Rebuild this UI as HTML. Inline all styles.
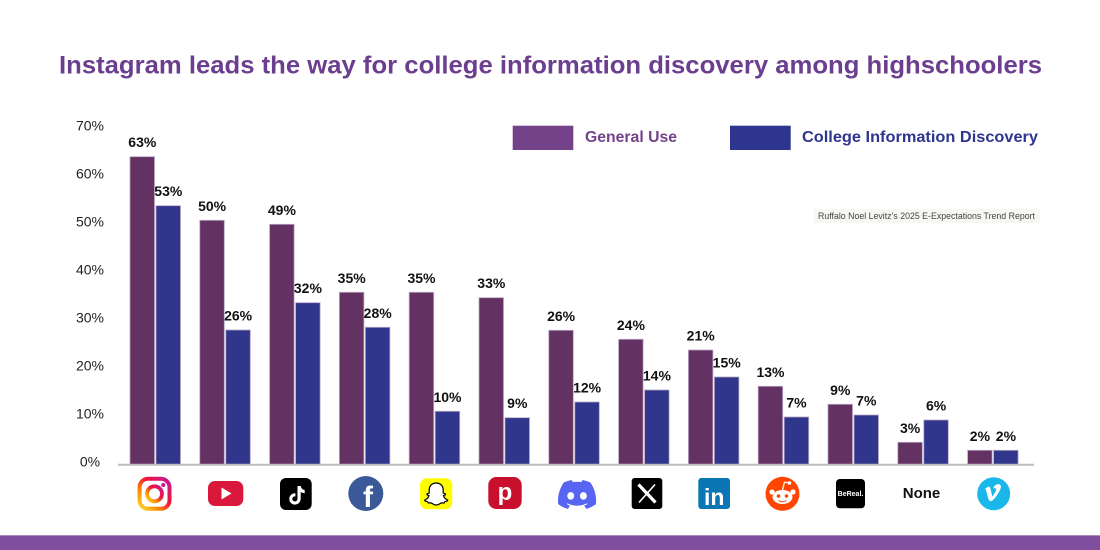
<!DOCTYPE html>
<html>
<head>
<meta charset="utf-8">
<style>
  html,body{margin:0;padding:0;background:#ffffff;}
  svg{display:block;}
  text{font-family:"Liberation Sans",sans-serif;}
</style>
</head>
<body>
<svg width="1100" height="550" viewBox="0 0 1100 550" xmlns="http://www.w3.org/2000/svg">
  <defs>
    <linearGradient id="ig" x1="0" y1="1" x2="1" y2="0">
      <stop offset="0" stop-color="#fdd835"/>
      <stop offset="0.3" stop-color="#fb8c00"/>
      <stop offset="0.6" stop-color="#f4133a"/>
      <stop offset="1" stop-color="#c2189a"/>
    </linearGradient>
  </defs>
  <rect width="1100" height="550" fill="#ffffff"/>

  <!-- Title -->
  <text x="59" y="73.3" font-size="25" font-weight="bold" fill="#6c3e8f" textLength="983" lengthAdjust="spacingAndGlyphs">Instagram leads the way for college information discovery among highschoolers</text>

  <!-- Y axis labels -->
  <g font-size="14" fill="#222" text-anchor="middle">
    <text x="90" y="466.5">0%</text>
    <text x="90" y="418.5">10%</text>
    <text x="90" y="370.5">20%</text>
    <text x="90" y="322.5">30%</text>
    <text x="90" y="274.5">40%</text>
    <text x="90" y="226.5">50%</text>
    <text x="90" y="178.5">60%</text>
    <text x="90" y="130.5">70%</text>
  </g>

  <!-- Legend -->
  <rect x="512.7" y="125.7" width="60.6" height="24.3" fill="#744289"/>
  <text x="585" y="142" font-size="16" font-weight="bold" fill="#74428a" textLength="92" lengthAdjust="spacingAndGlyphs">General Use</text>
  <rect x="730" y="125.7" width="60.7" height="24.3" fill="#2e358e"/>
  <text x="802" y="142" font-size="16" font-weight="bold" fill="#2e358e" textLength="236" lengthAdjust="spacingAndGlyphs">College Information Discovery</text>

  <!-- Source -->
  <rect x="814" y="209" width="226" height="14" fill="#f8f7f4"/>
  <text x="818" y="219" font-size="9.5" fill="#444" textLength="217" lengthAdjust="spacingAndGlyphs">Ruffalo Noel Levitz’s 2025 E-Expectations Trend Report</text>

  <!-- Bars -->
  <g stroke="#b9a6c4" stroke-width="0.8">
    <g fill="#643262">
      <rect x="130.0" y="156.7" width="24.5" height="308"/>
      <rect x="199.8" y="220.3" width="24.5" height="244.4"/>
      <rect x="269.6" y="224.3" width="24.5" height="240.4"/>
      <rect x="339.4" y="292.3" width="24.5" height="172.4"/>
      <rect x="409.2" y="292.3" width="24.5" height="172.4"/>
      <rect x="479.0" y="297.7" width="24.5" height="167"/>
      <rect x="548.8" y="330.3" width="24.5" height="134.4"/>
      <rect x="618.6" y="339.3" width="24.5" height="125.4"/>
      <rect x="688.4" y="350.0" width="24.5" height="114.7"/>
      <rect x="758.2" y="386.3" width="24.5" height="78.4"/>
      <rect x="828.0" y="404.3" width="24.5" height="60.4"/>
      <rect x="897.8" y="442.3" width="24.5" height="22.4"/>
      <rect x="967.6" y="450.3" width="24.5" height="14.4"/>
    </g>
    <g fill="#2f368c">
      <rect x="156.0" y="205.7" width="24.5" height="259"/>
      <rect x="225.8" y="330.0" width="24.5" height="134.7"/>
      <rect x="295.6" y="302.7" width="24.5" height="162"/>
      <rect x="365.4" y="327.3" width="24.5" height="137.4"/>
      <rect x="435.2" y="411.3" width="24.5" height="53.4"/>
      <rect x="505.0" y="417.7" width="24.5" height="47"/>
      <rect x="574.8" y="402.0" width="24.5" height="62.7"/>
      <rect x="644.6" y="390.0" width="24.5" height="74.7"/>
      <rect x="714.4" y="377.0" width="24.5" height="87.7"/>
      <rect x="784.2" y="417.0" width="24.5" height="47.7"/>
      <rect x="854.0" y="415.0" width="24.5" height="49.7"/>
      <rect x="923.8" y="420.0" width="24.5" height="44.7"/>
      <rect x="993.6" y="450.3" width="24.5" height="14.4"/>
    </g>
  </g>

  <!-- Axis line -->
  <line x1="118" y1="464.8" x2="1034" y2="464.8" stroke="#bdbdbd" stroke-width="2"/>

  <!-- Value labels -->
  <g font-size="14" font-weight="bold" fill="#111" text-anchor="middle">
    <text x="142.3" y="147.2">63%</text>
    <text x="168.3" y="196.2">53%</text>
    <text x="212.1" y="210.8">50%</text>
    <text x="238.1" y="320.5">26%</text>
    <text x="281.9" y="214.8">49%</text>
    <text x="307.9" y="293.2">32%</text>
    <text x="351.7" y="282.8">35%</text>
    <text x="377.7" y="317.8">28%</text>
    <text x="421.5" y="282.8">35%</text>
    <text x="447.5" y="401.8">10%</text>
    <text x="491.3" y="288.2">33%</text>
    <text x="517.3" y="408.2">9%</text>
    <text x="561.1" y="320.8">26%</text>
    <text x="587.1" y="392.5">12%</text>
    <text x="630.9" y="329.8">24%</text>
    <text x="656.9" y="380.5">14%</text>
    <text x="700.7" y="340.5">21%</text>
    <text x="726.7" y="367.5">15%</text>
    <text x="770.5" y="376.8">13%</text>
    <text x="796.5" y="407.5">7%</text>
    <text x="840.3" y="394.8">9%</text>
    <text x="866.3" y="405.5">7%</text>
    <text x="910.1" y="432.8">3%</text>
    <text x="936.1" y="410.5">6%</text>
    <text x="979.9" y="440.8">2%</text>
    <text x="1005.9" y="440.8">2%</text>
  </g>

  <!-- Icons -->
  <!-- Instagram -->
  <rect x="139.5" y="478.8" width="30" height="30" rx="8.5" fill="none" stroke="url(#ig)" stroke-width="4"/>
  <circle cx="154.5" cy="493.8" r="7.5" fill="none" stroke="url(#ig)" stroke-width="3.8"/>
  <circle cx="163.3" cy="485" r="2.1" fill="#c2189a"/>

  <!-- YouTube -->
  <rect x="208" y="481" width="35.3" height="25" rx="7" fill="#d9183b"/>
  <polygon points="221.5,487.5 221.5,499.5 231.5,493.5" fill="#fff"/>

  <!-- TikTok -->
  <rect x="280" y="478" width="31.7" height="32" rx="6" fill="#000"/>
  <g transform="translate(280,478)">
    <path d="M17.5 8 h3.2 c0.3 2.2 1.9 3.8 4 4 v3.2 c-1.4 0 -2.8 -0.4 -4 -1.2 v6.8 c0 3.3 -2.6 5.8 -5.8 5.8 s-5.6 -2.5 -5.6 -5.7 s2.9 -6 6.1 -5.6 v3.2 c-1.6 -0.4 -3.1 0.8 -3.1 2.4 c0 1.4 1.1 2.5 2.6 2.5 s2.6 -1.2 2.6 -2.7 z" fill="#fff"/>
  </g>

  <!-- Facebook -->
  <circle cx="365.8" cy="493.5" r="17.5" fill="#3b5998"/>
  <text x="368" y="507" font-size="30" font-weight="bold" fill="#fff" text-anchor="middle">f</text>

  <!-- Snapchat -->
  <rect x="420" y="478.3" width="32.3" height="31" rx="7" fill="#fffc00"/>
  <g transform="translate(420.2,477.5)">
    <path d="M16 5.5 c-4.5 0 -7 3.2 -7 7 v3 l-2 0.8 c-0.6 0.3 -0.4 1 0.2 1.2 l1.6 0.6 c-0.6 2 -2.2 3.6 -4 4.3 c-0.5 0.2 -0.4 0.8 0.1 1 c1 0.4 2.2 0.5 2.6 0.9 c0.3 0.4 0.2 1.2 0.8 1.2 c1 0 2 -0.4 3.4 0.3 c1.2 0.6 2.3 1.7 4.3 1.7 s3.1 -1.1 4.3 -1.7 c1.4 -0.7 2.4 -0.3 3.4 -0.3 c0.6 0 0.5 -0.8 0.8 -1.2 c0.4 -0.4 1.6 -0.5 2.6 -0.9 c0.5 -0.2 0.6 -0.8 0.1 -1 c-1.8 -0.7 -3.4 -2.3 -4 -4.3 l1.6 -0.6 c0.6 -0.2 0.8 -0.9 0.2 -1.2 l-2 -0.8 v-3 c0 -3.8 -2.5 -7 -7 -7 z" fill="#fff" stroke="#000" stroke-width="1.2"/>
  </g>

  <!-- Pinterest -->
  <rect x="488.3" y="477" width="33.4" height="32" rx="8" fill="#c8102e"/>
  <text x="505" y="500" font-size="24" font-weight="bold" fill="#fff" text-anchor="middle">p</text>

  <!-- Discord -->
  <g transform="translate(558,480) scale(0.3)">
    <path fill="#5865f2" d="M107.7,8.07A105.15,105.15,0,0,0,81.47,0a72.06,72.06,0,0,0-3.36,6.830A97.68,97.68,0,0,0,49,6.83,72.37,72.37,0,0,0,45.640,0,105.890,105.890,0,0,0,19.390,8.090C2.790,32.650-1.710,56.600.540,80.210h0A105.730,105.730,0,0,0,32.710,96.360,77.700,77.700,0,0,0,39.600,85.250a68.420,68.420,0,0,1-10.850-5.180c.910-.660,1.800-1.340,2.660-2a75.570,75.570,0,0,0,64.320,0c.870.710,1.760,1.390,2.660,2a68.680,68.680,0,0,1-10.870,5.190,77,77,0,0,0,6.890,11.100A105.250,105.250,0,0,0,126.600,80.220h0C129.240,52.840,122.090,29.110,107.700,8.070ZM42.450,65.690C36.180,65.690,31,60,31,53s5-12.740,11.430-12.740S54,46,53.890,53,48.840,65.690,42.450,65.690Zm42.240,0C78.410,65.690,73.250,60,73.250,53s5-12.740,11.440-12.740S96.230,46,96.120,53,91.080,65.690,84.690,65.690Z"/>
  </g>

  <!-- X -->
  <rect x="631.7" y="478" width="30.6" height="31" rx="3" fill="#000"/>
  <g stroke="#fff" stroke-linecap="butt">
    <line x1="638.5" y1="484.5" x2="655.5" y2="502.5" stroke-width="3.2"/>
    <line x1="655" y1="484.5" x2="639" y2="502.5" stroke-width="1.6"/>
  </g>

  <!-- LinkedIn -->
  <rect x="698.3" y="478" width="31.7" height="31" rx="3" fill="#0a77b5"/>
  <text x="714.2" y="505" font-size="23" font-weight="bold" fill="#fff" text-anchor="middle">in</text>

  <!-- Reddit -->
  <circle cx="782.5" cy="493.8" r="17" fill="#ff4500"/>
  <ellipse cx="782.5" cy="497" rx="10" ry="7" fill="#fff"/>
  <circle cx="772" cy="492" r="2.6" fill="#fff"/>
  <circle cx="793" cy="492" r="2.6" fill="#fff"/>
  <line x1="782.5" y1="490" x2="784.5" y2="482" stroke="#fff" stroke-width="1.3"/>
  <line x1="784.5" y1="482" x2="789" y2="483" stroke="#fff" stroke-width="1.3"/>
  <circle cx="789.5" cy="483" r="1.8" fill="#fff"/>
  <circle cx="778.5" cy="496" r="1.8" fill="#ff4500"/>
  <circle cx="786.5" cy="496" r="1.8" fill="#ff4500"/>
  <path d="M778.5 500.5 q4 2.5 8 0" fill="none" stroke="#ff4500" stroke-width="1"/>

  <!-- BeReal -->
  <rect x="836" y="479" width="29" height="29.3" rx="4" fill="#000"/>
  <text x="850.5" y="496" font-size="7" font-weight="bold" fill="#fff" text-anchor="middle">BeReal.</text>

  <!-- None -->
  <text x="921.5" y="498" font-size="15" font-weight="bold" fill="#111" text-anchor="middle">None</text>

  <!-- Vimeo -->
  <circle cx="993.7" cy="493.7" r="16.5" fill="#1ab7ea"/>
  <path d="M985.5 488.5 c2 -1.8 3.6 -2.5 4.4 -1.2 c1 1.5 1.6 7.5 2.6 9 c1.2 -1.4 3.5 -5 3.6 -6.5 c0.2 -2 -1.5 -2 -2.8 -1.3 c1 -3.2 3.5 -4.6 5.6 -4.3 c2 0.3 2.5 2.2 1.6 4.6 c-1.6 4 -5.3 9.6 -7.8 11.5 c-2.4 1.8 -3.7 0.3 -4.4 -1.8 l-2.4 -8.6 c-0.6 -1.6 -1.2 -1 -2.4 -0.4 z" fill="#fff"/>

  <!-- Bottom band -->
  <rect x="0" y="535" width="1100" height="15" fill="#7f4f9e"/>
  <rect x="0" y="535" width="1100" height="1" fill="#a98bbd"/>
</svg>
</body>
</html>
